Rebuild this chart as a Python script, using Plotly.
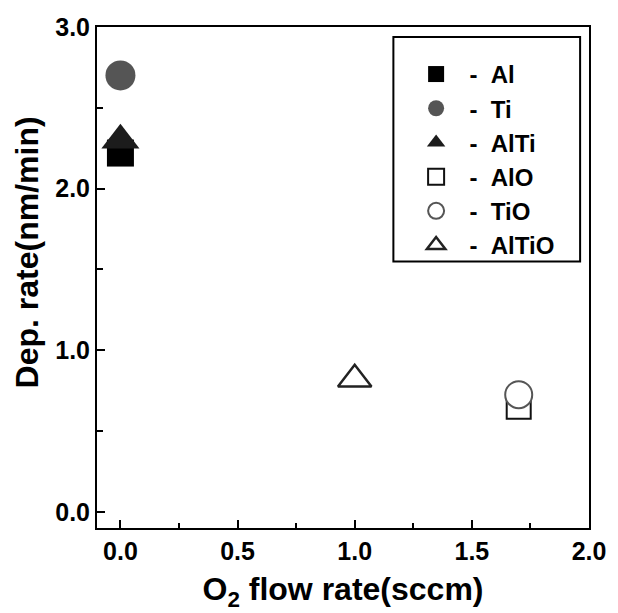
import plotly.graph_objects as go

# Data
series_names = ["Al", "Ti", "AlTi", "AlO", "TiO", "AlTiO"]
o2_flow = [[0.0], [0.0], [0.0], [1.7], [1.7], [1.0]]
dep_rate = [[2.22], [2.70], [2.30], [0.65], [0.725], [0.82]]

x_range = [-0.1, 2.0]
y_range = [-0.1, 3.0]
x_tickvals = [0.0, 0.5, 1.0, 1.5, 2.0]
x_ticklabels = ["0.0", "0.5", "1.0", "1.5", "2.0"]
y_tickvals = [0.0, 1.0, 2.0, 3.0]
y_ticklabels = ["0.0", "1.0", "2.0", "3.0"]
x_title = "O<sub>2</sub> flow rate(sccm)"
y_title = "Dep. rate(nm/min)"

styles = [
    dict(symbol="square", size=27, color="#000000", line=dict(width=0, color="#000000")),
    dict(symbol="circle", size=30, color="#555555", line=dict(width=0, color="#555555")),
    dict(symbol="triangle-up", size=33, color="#1c1c1c", line=dict(width=0, color="#1c1c1c")),
    dict(symbol="square", size=24, color="#ffffff", line=dict(width=2, color="#111111")),
    dict(symbol="circle", size=27, color="#ffffff", line=dict(width=2, color="#555555")),
    dict(symbol="triangle-up", size=29, color="#ffffff", line=dict(width=2.5, color="#222222")),
]

NB = "\u00a0"
fig = go.Figure()
for name, xs, ys, st in zip(series_names, o2_flow, dep_rate, styles):
    fig.add_trace(go.Scatter(
        x=xs, y=ys, mode="markers", name=NB * 2 + "-" + NB * 2 + name,
        marker=st, cliponaxis=False,
    ))

FONT = "Liberation Sans, Arial, sans-serif"
L, R, T, B = 97, 595, 27, 529
PW, PH = R - L, B - T

fig.update_layout(
    width=618, height=613,
    margin=dict(l=L, r=618 - R, t=T, b=613 - B),
    paper_bgcolor="white", plot_bgcolor="white",
    font=dict(family=FONT, color="black", weight="bold"),
    showlegend=True,
    legend=dict(
        x=(420 - L) / PW, y=(B - 52) / PH, xanchor="left", yanchor="top",
        bgcolor="rgba(0,0,0,0)", borderwidth=0,
        font=dict(family=FONT, size=24, color="black", weight="bold"),
        itemsizing="trace",
    ),
    xaxis=dict(
        range=x_range, showgrid=False, zeroline=False,
        showline=True, linewidth=2, linecolor="black", mirror=True,
        tickmode="array", tickvals=x_tickvals, ticktext=x_ticklabels,
        ticks="inside", ticklen=8, tickwidth=2, tickcolor="black",
        minor=dict(dtick=0.25, ticks="inside", ticklen=5, tickwidth=2, tickcolor="black", showgrid=False),
        tickfont=dict(family=FONT, size=25, color="black", weight="bold"),
        title=dict(text=x_title, standoff=14,
                   font=dict(family=FONT, size=32, color="black", weight="bold")),
    ),
    yaxis=dict(
        range=y_range, showgrid=False, zeroline=False,
        showline=True, linewidth=2, linecolor="black", mirror=True,
        tickmode="array", tickvals=y_tickvals, ticktext=y_ticklabels,
        ticks="inside", ticklen=8, tickwidth=2, tickcolor="black",
        minor=dict(dtick=0.5, ticks="inside", ticklen=6, tickwidth=2, tickcolor="black", showgrid=False),
        tickfont=dict(family=FONT, size=25, color="black", weight="bold"),
    ),
    annotations=[dict(
        text=y_title, textangle=-90, showarrow=False,
        xref="paper", yref="paper", x=(26 - L) / PW, y=(B - 253) / PH,
        xanchor="center", yanchor="middle",
        font=dict(family=FONT, size=32, color="black", weight="bold"),
    )],
    shapes=[dict(type="rect", xref="paper", yref="paper",
                 x0=(397 - L) / PW, x1=(586 - L) / PW,
                 y0=(B - 262) / PH, y1=(B - 37) / PH,
                 line=dict(color="black", width=2), fillcolor="rgba(0,0,0,0)", layer="above")],
)

fig.write_html("out.html")
